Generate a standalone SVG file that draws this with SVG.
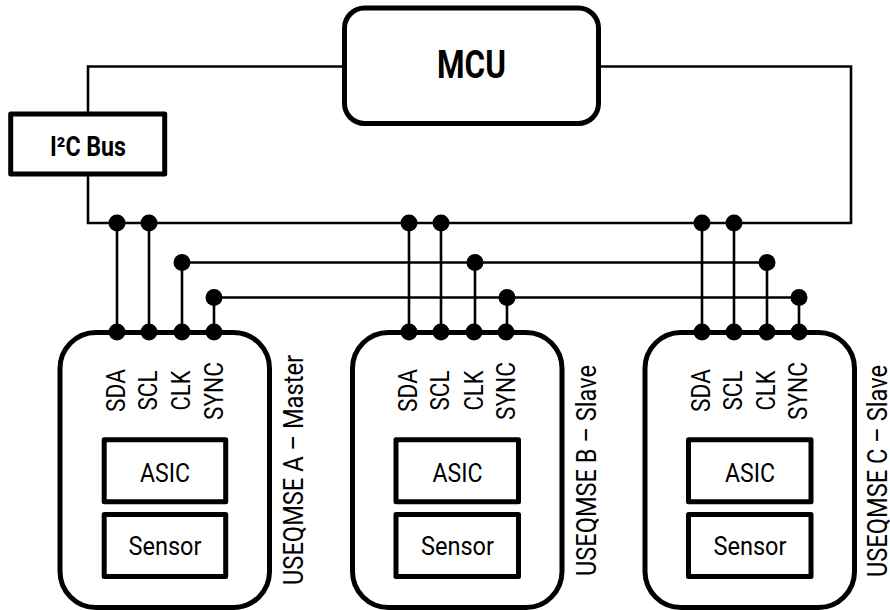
<svg xmlns="http://www.w3.org/2000/svg" xmlns:xlink="http://www.w3.org/1999/xlink" width="890" height="610" viewBox="0 0 890 610">
<style>
.w{fill:none;stroke:#000;stroke-width:2.6}
.d{fill:#000}
.box{fill:#fff;stroke:#000;stroke-width:5;stroke-linejoin:round}
.mod{fill:#fff;stroke:#000;stroke-width:5}
text{font-family:Roboto,"Liberation Sans",sans-serif;fill:#000}
.t{font-size:26px;text-anchor:middle}
.p{font-size:26px}
.l{font-size:27px}
</style>
<defs>
<g id="dots"><circle class="d" cx="0" cy="0" r="8.5"/><circle class="d" cx="32" cy="0" r="8.5"/><circle class="d" cx="65" cy="0" r="8.5"/><circle class="d" cx="97" cy="0" r="8.5"/></g>
</defs>
<rect width="890" height="610" fill="#fff"/>
<g id="connectors">
<path class="w" d="M345 66.500H88V223H851V66.500H600"/>
<path class="w" d="M182 262.500H767M214 297.500H799"/>
<path class="w" d="M117 223V332M149 223V332M182 262V332M214 297V332"/>
<path class="w" d="M409 223V332M441 223V332M475 262V332M507 297V332"/>
<path class="w" d="M702 223V332M734 223V332M767 262V332M799 297V332"/>
</g>
<g id="mcu"><rect class="box" x="344.500" y="8" width="254" height="115.500" rx="20"/><text x="471.500" y="78" text-anchor="middle" font-size="38" font-weight="700" textLength="69" lengthAdjust="spacingAndGlyphs">MCU</text></g>
<g id="i2c"><rect class="box" x="10.700" y="114" width="154" height="60"/><text x="50" y="155.500" font-size="27" font-weight="700" textLength="76" lengthAdjust="spacingAndGlyphs">I²C Bus</text></g>

<g id="module-a">
<rect class="mod" x="60" y="332.500" width="209.500" height="275" rx="36"/>
<rect class="box" x="104.200" y="439.800" width="121.500" height="62"/><text class="t" x="165" y="481.700" textLength="50" lengthAdjust="spacingAndGlyphs">ASIC</text>
<rect class="box" x="104.200" y="514.500" width="121.500" height="62"/><text class="t" x="165" y="555" textLength="73" lengthAdjust="spacingAndGlyphs">Sensor</text>
<text class="p" transform="translate(125 412) rotate(-90)" textLength="43" lengthAdjust="spacingAndGlyphs">SDA</text>
<text class="p" transform="translate(157 410.500) rotate(-90)" textLength="40" lengthAdjust="spacingAndGlyphs">SCL</text>
<text class="p" transform="translate(190 410.500) rotate(-90)" textLength="40" lengthAdjust="spacingAndGlyphs">CLK</text>
<text class="p" transform="translate(223 420) rotate(-90)" textLength="58" lengthAdjust="spacingAndGlyphs">SYNC</text>
<text class="l" transform="translate(303 585) rotate(-90)" textLength="230" lengthAdjust="spacingAndGlyphs">USEQMSE A – Master</text>
<use xlink:href="#dots" href="#dots" x="117" y="332"/>
</g>
<g id="dots-top-a" class="d"><circle cx="117" cy="223" r="8.5"/><circle cx="149" cy="223" r="8.5"/><circle cx="182" cy="262.500" r="8.500"/><circle cx="214" cy="297.500" r="8.500"/></g>

<g id="module-b">
<rect class="mod" x="352.500" y="332.500" width="209.500" height="275" rx="36"/>
<rect class="box" x="396" y="439.800" width="122.500" height="62"/><text class="t" x="457.500" y="481.700" textLength="50" lengthAdjust="spacingAndGlyphs">ASIC</text>
<rect class="box" x="396" y="514.500" width="122.500" height="62"/><text class="t" x="457.500" y="555" textLength="73" lengthAdjust="spacingAndGlyphs">Sensor</text>
<text class="p" transform="translate(417 412) rotate(-90)" textLength="43" lengthAdjust="spacingAndGlyphs">SDA</text>
<text class="p" transform="translate(449 410.500) rotate(-90)" textLength="40" lengthAdjust="spacingAndGlyphs">SCL</text>
<text class="p" transform="translate(482.700 410.500) rotate(-90)" textLength="40" lengthAdjust="spacingAndGlyphs">CLK</text>
<text class="p" transform="translate(515 420) rotate(-90)" textLength="58" lengthAdjust="spacingAndGlyphs">SYNC</text>
<text class="l" transform="translate(596 576) rotate(-90)" textLength="211" lengthAdjust="spacingAndGlyphs">USEQMSE B – Slave</text>
<use xlink:href="#dots" href="#dots" x="409" y="332"/>
</g>
<g id="dots-top-b" class="d"><circle cx="409" cy="223" r="8.5"/><circle cx="441" cy="223" r="8.5"/><circle cx="475" cy="262.500" r="8.500"/><circle cx="507" cy="297.500" r="8.500"/></g>

<g id="module-c">
<rect class="mod" x="645" y="332.500" width="209.500" height="275" rx="36"/>
<rect class="box" x="688.500" y="439.800" width="122.500" height="62"/><text class="t" x="750" y="481.700" textLength="50" lengthAdjust="spacingAndGlyphs">ASIC</text>
<rect class="box" x="688.500" y="514.500" width="122.500" height="62"/><text class="t" x="750" y="555" textLength="73" lengthAdjust="spacingAndGlyphs">Sensor</text>
<text class="p" transform="translate(710 412) rotate(-90)" textLength="43" lengthAdjust="spacingAndGlyphs">SDA</text>
<text class="p" transform="translate(741.700 410.500) rotate(-90)" textLength="40" lengthAdjust="spacingAndGlyphs">SCL</text>
<text class="p" transform="translate(775 410.500) rotate(-90)" textLength="40" lengthAdjust="spacingAndGlyphs">CLK</text>
<text class="p" transform="translate(807 420) rotate(-90)" textLength="58" lengthAdjust="spacingAndGlyphs">SYNC</text>
<text class="l" transform="translate(886.500 577) rotate(-90)" textLength="212" lengthAdjust="spacingAndGlyphs">USEQMSE C – Slave</text>
<use xlink:href="#dots" href="#dots" x="702" y="332"/>
</g>
<g id="dots-top-c" class="d"><circle cx="702" cy="223" r="8.5"/><circle cx="734" cy="223" r="8.5"/><circle cx="767" cy="262.500" r="8.500"/><circle cx="799" cy="297.500" r="8.500"/></g>
</svg>
